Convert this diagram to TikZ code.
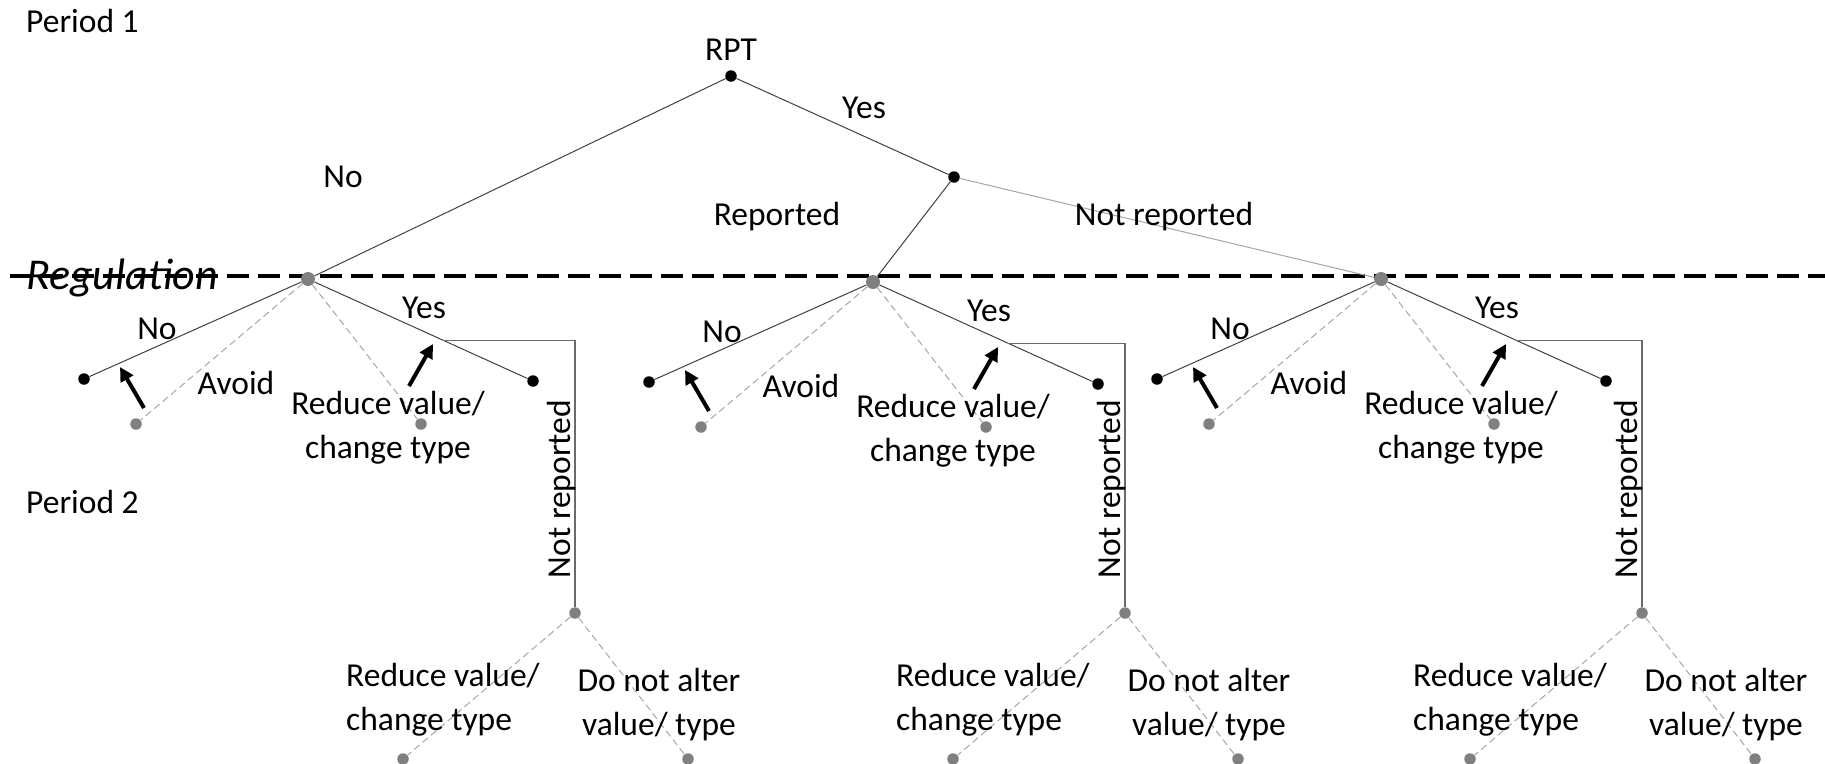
\documentclass[tikz,border=0pt]{standalone}
\usepackage{fontspec}
\setmainfont{Carlito}
\usetikzlibrary{arrows.meta,calc}
\definecolor{dotgray}{HTML}{808080}
\definecolor{darkline}{HTML}{404040}
\definecolor{lightline}{HTML}{A6A6A6}
\definecolor{midline}{HTML}{6A6A6A}
\begin{document}
\begin{tikzpicture}[x=1pt,y=-1pt,
  lbl/.style={inner sep=0pt, font=\fontsize{33.5}{44}\selectfont},
  bdot/.style={circle, fill=black, inner sep=0pt, minimum size=11.5pt},
  gdot/.style={circle, fill=dotgray, inner sep=0pt, minimum size=11.5pt},
  rdot/.style={circle, fill=dotgray, inner sep=0pt, minimum size=14pt},
  edge/.style={draw=darkline, line width=1pt},
  ledge/.style={draw=lightline, line width=1pt},
  dedge/.style={draw=lightline, line width=1pt, dash pattern=on 7pt off 4pt},
  bar/.style={draw=midline, line width=1.2pt},
  regline/.style={draw=black, line width=3.3pt, dash pattern=on 22pt off 9pt},
  bigarrow/.style={draw=black, line width=4pt, -{Triangle[length=14pt,width=14pt]}},
]
\useasboundingbox (0,0) rectangle (1825,763);
% regulation line
\coordinate (rs) at (10,276);
\coordinate (re) at (1825,276);
\draw[regline] (rs) -- (re);
\node[anchor=base west, inner sep=0pt, font=\fontsize{44}{50}\selectfont\itshape] (reg) at (26,289) {Regulation};
% period labels
\node[lbl, anchor=base west] (p1) at (26,32) {Period 1};
\node[lbl, anchor=base west] (p2) at (26,513) {Period 2};
% top tree
\node[lbl, anchor=base] (rpttxt) at (731,60) {RPT};
\node[bdot] (rpt) at (731,76) {};
\node[bdot] (yn) at (954,177) {};
\node[rdot] (L) at (308,279) {};
\node[rdot] (M) at (873,282) {};
\node[rdot] (R) at (1381,279) {};
\draw[edge] (rpt) -- (L);
\draw[edge] (rpt) -- (yn);
\draw[edge] (yn) -- (M);
\draw[ledge] (yn) -- (R);
\node[lbl, anchor=base] (tno) at (343,187) {No};
\node[lbl, anchor=base] (tyes) at (864,118) {Yes};
\node[lbl, anchor=base] (trep) at (777,225) {Reported};
\node[lbl, anchor=base] (tnrep) at (1164,225) {Not reported};
% subtrees
\foreach \n/\x/\y/\v in {L/308/279/267, M/873/282/252, R/1381/279/261} {
  \node[bdot] (\n-a) at (\x-224,\y+100) {};
  \node[gdot] (\n-b) at (\x-172,\y+145) {};
  \node[gdot] (\n-c) at (\x+113,\y+145) {};
  \node[bdot] (\n-d) at (\x+225,\y+102) {};
  \node[gdot] (\n-e) at (\x+\v,613) {};
  \node[gdot] (\n-f) at (\x+\v-172,759) {};
  \node[gdot] (\n-g) at (\x+\v+113,759) {};
  \draw[edge] (\n) -- (\n-a);
  \draw[dedge] (\n) -- (\n-b);
  \draw[dedge] (\n) -- (\n-c);
  \draw[edge] (\n) -- (\n-d);
  \coordinate (\n-h) at ($(\n)!0.6!(\n-d)$);
  \draw[bar] (\n-h) -- (\n-h -| \n-e) -- (\n-e);
  \draw[dedge] (\n-e) -- (\n-f);
  \draw[dedge] (\n-e) -- (\n-g);
  \coordinate (\n-a1) at (\x-164,\y+129);
  \coordinate (\n-a2) at (\x-188,\y+88);
  \draw[bigarrow] (\n-a1) -- (\n-a2);
  \coordinate (\n-b1) at (\x+101,\y+107);
  \coordinate (\n-b2) at (\x+125,\y+65);
  \draw[bigarrow] (\n-b1) -- (\n-b2);
  \node[lbl, anchor=base] (\n-no) at (\x-151,\y+60) {No};
  \node[lbl, anchor=base] (\n-av) at (\x-72,\y+115) {Avoid};
  \node[lbl, anchor=base] (\n-yes) at (\x+116,\y+39) {Yes};
  \node[lbl, align=center] (\n-rv) at (\x+80,\y+149) {Reduce value/\\change type};
  \node[lbl, rotate=90, anchor=base] (\n-nr) at (\x+\v-5,489) {Not reported};
  \node[lbl, align=left, anchor=west] (\n-rv2) at (\x+\v-229,700) {Reduce value/\\change type};
  \node[lbl, align=center] (\n-da) at (\x+\v+84,705) {Do not alter\\value/ type};
}
\end{tikzpicture}
\end{document}
